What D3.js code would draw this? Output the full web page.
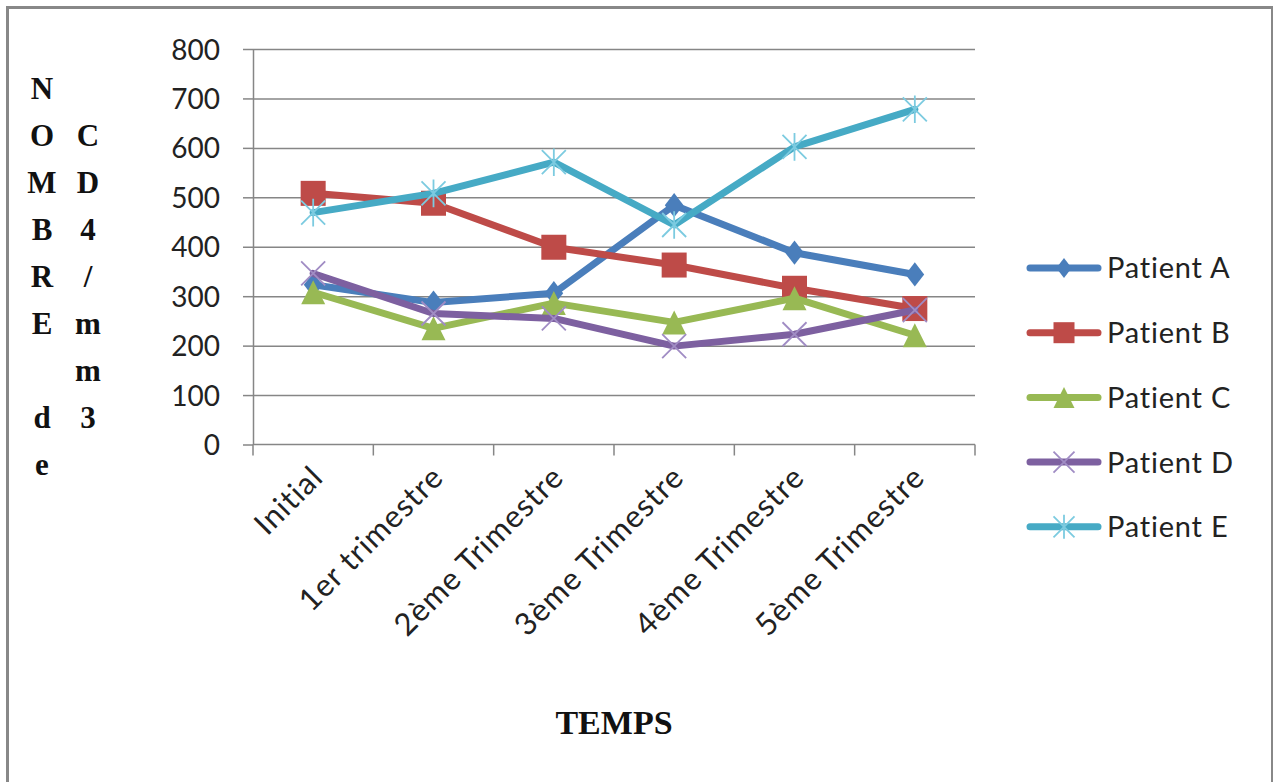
<!DOCTYPE html>
<html>
<head>
<meta charset="utf-8">
<script src="https://cdn.jsdelivr.net/npm/d3@7"></script>
<style>
  html, body { margin: 0; padding: 0; background: #fff; }
  svg { display: block; }
</style>
</head>
<body>
<svg id="chart" width="1277" height="782"></svg>
<script>
// Time points (x categories)
const categories = ["Initial", "1er trimestre", "2ème Trimestre", "3ème Trimestre", "4ème Trimestre", "5ème Trimestre"];

// CD4 counts (cells/mm3) per patient
const patientA = [323, 287, 306, 484, 388, 344];
const patientB = [508, 488, 399, 363, 316, 275];
const patientC = [308, 235, 286, 247, 296, 221];
const patientD = [346, 265, 255, 199, 223, 272];
const patientE = [469, 508, 571, 444, 602, 678];

const seriesNames = ["Patient A", "Patient B", "Patient C", "Patient D", "Patient E"];
const yTicks = [0, 100, 200, 300, 400, 500, 600, 700, 800];

const yTitleCol1 = ["N", "O", "M", "B", "R", "E", "", "d", "e"];
const yTitleCol2 = ["", "C", "D", "4", "/", "m", "m", "3"];
const xTitle = "TEMPS";

const series = [
  { name: seriesNames[0], values: patientA, color: "#4A7EBB", markColor: "#4A7EBB", marker: "diamond" },
  { name: seriesNames[1], values: patientB, color: "#BE4B48", markColor: "#BE4B48", marker: "square" },
  { name: seriesNames[2], values: patientC, color: "#98B954", markColor: "#98B954", marker: "triangle" },
  { name: seriesNames[3], values: patientD, color: "#7D60A0", markColor: "#A08CC4", marker: "x" },
  { name: seriesNames[4], values: patientE, color: "#46AAC5", markColor: "#7CCBE0", marker: "star" }
];

const svg = d3.select("#chart");

// Outer frame
const frame = svg.append("g").attr("stroke", "#888").attr("fill", "none");
frame.append("line").attr("x1", 7.5).attr("x2", 7.5).attr("y1", 6).attr("y2", 782).attr("stroke-width", 3);
frame.append("line").attr("x1", 6).attr("x2", 1273).attr("y1", 7.5).attr("y2", 7.5).attr("stroke-width", 3);
frame.append("line").attr("x1", 1272).attr("x2", 1272).attr("y1", 6).attr("y2", 782).attr("stroke-width", 2);

const plot = { left: 253, right: 975, top: 49, bottom: 444.5 };

const x = d3.scaleBand().domain(categories).range([plot.left, plot.right]).padding(0);
const y = d3.scaleLinear().domain([0, 800]).range([plot.bottom, plot.top]);

const gridColor = "#868686";
const tickFont = "Lato, 'Open Sans', sans-serif";

// Horizontal gridlines + y axis
const yAxis = d3.axisLeft(y).tickValues(yTicks).tickSize(10).tickPadding(23).tickSizeOuter(0);
const yG = svg.append("g").attr("transform", `translate(${plot.left},0)`).call(yAxis);
yG.select(".domain").attr("stroke", gridColor).attr("stroke-width", 1.5);
yG.selectAll(".tick line").attr("stroke", gridColor).attr("stroke-width", 1.5);
yG.selectAll(".tick text")
  .attr("font-family", tickFont).attr("font-size", 28).attr("fill", "#222")
  .attr("dy", "0.36em");
yG.selectAll(".tick").filter(d => d > 0).append("line")
  .attr("x1", 0).attr("x2", plot.right - plot.left)
  .attr("stroke", gridColor).attr("stroke-width", 1.5);

// X axis with ticks between categories
const xG = svg.append("g").attr("transform", `translate(0,${plot.bottom})`);
xG.append("line").attr("x1", plot.left).attr("x2", plot.right)
  .attr("stroke", gridColor).attr("stroke-width", 1.5);
const bounds = categories.map(c => x(c)).concat([x(categories[categories.length - 1]) + x.bandwidth()]);
xG.selectAll("line.tk").data(bounds).enter().append("line").attr("class", "tk")
  .attr("x1", d => d).attr("x2", d => d).attr("y1", 0).attr("y2", 11)
  .attr("stroke", gridColor).attr("stroke-width", 1.5);
xG.selectAll("text.lbl").data(categories).enter().append("text").attr("class", "lbl")
  .attr("transform", d => `translate(${x(d) + x.bandwidth() / 2 + 4},${27}) rotate(-45)`)
  .attr("text-anchor", "end").attr("dy", "0.35em")
  .attr("font-family", tickFont).attr("font-size", 31).attr("letter-spacing", 1)
  .attr("fill", "#222").text(d => d);

// Series lines and markers
const cx = (d, i) => x(categories[i]) + x.bandwidth() / 2;
const line = d3.line().x((d, i) => cx(d, i)).y(d => y(d));

function drawMarker(g, type, color, size) {
  const h = size / 2;
  if (type === "diamond") {
    g.append("path").attr("d", `M0,${-h * 1.1}L${h * 0.85},0L0,${h * 1.1}L${-h * 0.85},0Z`).attr("fill", color);
  } else if (type === "square") {
    g.append("rect").attr("x", -h).attr("y", -h).attr("width", size).attr("height", size).attr("fill", color);
  } else if (type === "triangle") {
    g.append("path").attr("d", `M0,${-h}L${h},${h}L${-h},${h}Z`).attr("fill", color);
  } else if (type === "x") {
    g.append("path").attr("d", `M${-h},${-h}L${h},${h}M${h},${-h}L${-h},${h}`)
      .attr("stroke", color).attr("stroke-width", 1.8).attr("fill", "none");
  } else if (type === "star") {
    g.append("path").attr("d", `M${-h},${-h}L${h},${h}M${h},${-h}L${-h},${h}M0,${-h * 1.15}L0,${h * 1.15}`)
      .attr("stroke", color).attr("stroke-width", 1.8).attr("fill", "none");
  }
}

const markerSize = { diamond: 22, square: 25, triangle: 24, x: 24, star: 24 };

series.forEach(s => {
  const g = svg.append("g");
  g.append("path").datum(s.values).attr("d", line)
    .attr("fill", "none").attr("stroke", s.color).attr("stroke-width", 7)
    .attr("stroke-linejoin", "round").attr("stroke-linecap", "round");
  s.values.forEach((v, i) => {
    const m = g.append("g").attr("transform", `translate(${cx(v, i)},${y(v)})`);
    drawMarker(m, s.marker, s.markColor, markerSize[s.marker]);
  });
});

// Legend
const legend = svg.append("g");
series.forEach((s, i) => {
  const ly = 268 + i * 64.7;
  const row = legend.append("g").attr("transform", `translate(0,${ly})`);
  row.append("line").attr("x1", 1030).attr("x2", 1098).attr("y1", 0).attr("y2", 0)
    .attr("stroke", s.color).attr("stroke-width", 7).attr("stroke-linecap", "round");
  const m = row.append("g").attr("transform", "translate(1064,0)");
  drawMarker(m, s.marker, s.markColor, s.marker === "diamond" ? 18 : 21);
  row.append("text").attr("x", 1107).attr("y", 0).attr("dy", "0.36em")
    .attr("font-family", tickFont).attr("font-size", 29).attr("letter-spacing", 0.8)
    .attr("fill", "#222").text(s.name);
});

// Vertical-stacked y title
const serif = "'Liberation Serif', 'Times New Roman', serif";
const rowY = i => 88 + i * 47;
svg.append("g").selectAll("text").data(yTitleCol1).enter().append("text")
  .attr("x", 42).attr("y", (d, i) => rowY(i)).attr("dy", "0.35em")
  .attr("text-anchor", "middle").attr("font-family", serif).attr("font-weight", "bold")
  .attr("font-size", 31).attr("fill", "#111").text(d => d);
svg.append("g").selectAll("text").data(yTitleCol2).enter().append("text")
  .attr("x", 88).attr("y", (d, i) => rowY(i)).attr("dy", "0.35em")
  .attr("text-anchor", "middle").attr("font-family", serif).attr("font-weight", "bold")
  .attr("font-size", 31).attr("fill", "#111").text(d => d);

// X title
svg.append("text").attr("x", 614).attr("y", 722).attr("dy", "0.35em")
  .attr("text-anchor", "middle").attr("font-family", serif).attr("font-weight", "bold")
  .attr("font-size", 34).attr("fill", "#111").text(xTitle);
</script>
</body>
</html>
